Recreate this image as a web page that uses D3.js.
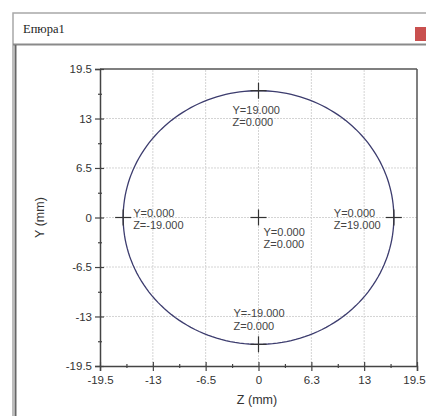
<!DOCTYPE html>
<html>
<head>
<meta charset="utf-8">
<script src="https://cdn.jsdelivr.net/npm/d3@7"></script>
<style>
  body { margin: 0; background: #fff; }
  svg { display: block; font-family: Arial, "Liberation Sans", sans-serif; }
</style>
</head>
<body>
<svg id="chart" width="426" height="416"></svg>
<script>
// data
// the axes are labelled +-19.5 but the circle of radius 19 sits well inside,
// so the real extent of the axes is ~22.25 and the labels are kept as printed
var axisMax = 22.25;
var majorTicks = [-22.25, -14.83, -7.42, 0, 7.42, 14.83, 22.25];
var minorTicks = [-18.54, -11.13, -3.71, 3.71, 11.13, 18.54];
var xTickLabels = ["-19.5", "-13", "-6.5", "0", "6.3", "13", "19.5"];
var yTickLabels = ["-19.5", "-13", "-6.5", "0", "6.5", "13", "19.5"];
var radius = 19;
var pointsZ = [0, -19, 0, 19, 0];
var pointsY = [19, 0, 0, 0, -19];
// label offsets in px from each point (first line baseline)
var labelDx = [-26, 10, 5, -60, -25];
var labelDy = [23, -1, 18, -1, -27];

var svg = d3.select("#chart");

// window frame
svg.append("rect").attr("x", 13).attr("y", 13).attr("width", 420).attr("height", 410)
  .attr("fill", "#fff").attr("stroke", "#a8a8a8").attr("stroke-width", 1.5);
svg.append("line").attr("x1", 13).attr("x2", 426).attr("y1", 44.5).attr("y2", 44.5)
  .attr("stroke", "#8a8a8a").attr("stroke-width", 2);
svg.append("line").attr("x1", 15.5).attr("x2", 15.5).attr("y1", 45).attr("y2", 416)
  .attr("stroke", "#666").attr("stroke-width", 2);
svg.append("text").attr("x", 23).attr("y", 33).text("Епюра1")
  .attr("font-family", "'Liberation Serif', serif").attr("font-size", 12.5).attr("fill", "#222");
svg.append("rect").attr("x", 415).attr("y", 27).attr("width", 14).attr("height", 14)
  .attr("fill", "#c9504f");

var x = d3.scaleLinear().domain([-axisMax, axisMax]).range([100, 417]);
var y = d3.scaleLinear().domain([-axisMax, axisMax]).range([366, 69]);

// grid
var grid = svg.append("g").attr("stroke", "#d4d4d4").attr("stroke-width", 1)
  .attr("stroke-dasharray", "2,1");
grid.selectAll(".gx").data(majorTicks.slice(1, -1)).enter().append("line")
  .attr("x1", function(d){ return x(d); }).attr("x2", function(d){ return x(d); })
  .attr("y1", y(-axisMax)).attr("y2", y(axisMax));
grid.selectAll(".gy").data(majorTicks.slice(1, -1)).enter().append("line")
  .attr("y1", function(d){ return y(d); }).attr("y2", function(d){ return y(d); })
  .attr("x1", x(-axisMax)).attr("x2", x(axisMax));

// frame lines top & right
svg.append("line").attr("x1", x(-axisMax)).attr("x2", x(axisMax)).attr("y1", y(axisMax)).attr("y2", y(axisMax))
  .attr("stroke", "#555").attr("stroke-width", 1.5);
svg.append("line").attr("x1", x(axisMax)).attr("x2", x(axisMax)).attr("y1", y(axisMax)).attr("y2", y(-axisMax))
  .attr("stroke", "#555").attr("stroke-width", 1.5);

// axes
var xAxis = d3.axisBottom(x).tickValues(majorTicks).tickSize(5)
  .tickFormat(function(d, i){ return xTickLabels[i]; });
var gx = svg.append("g").attr("transform", "translate(0," + y(-axisMax) + ")").call(xAxis);
gx.selectAll("line").attr("y1", -4);
gx.selectAll(".tick text").attr("y", 10);
// last label sits against the window edge
gx.selectAll(".tick text").filter(function(d){ return d === axisMax; }).attr("dx", "-3");
var xMinor = d3.axisBottom(x).tickValues(minorTicks).tickSize(2).tickFormat("");
var gxm = svg.append("g").attr("transform", "translate(0," + y(-axisMax) + ")").call(xMinor);
gxm.selectAll("line").attr("y1", -2);
gxm.select(".domain").remove();

var yAxis = d3.axisLeft(y).tickValues(majorTicks).tickSize(5)
  .tickFormat(function(d, i){ return yTickLabels[i]; });
var gy = svg.append("g").attr("transform", "translate(" + x(-axisMax) + ",0)").call(yAxis);
gy.selectAll("line").attr("x1", 4);
gy.selectAll(".tick text").attr("x", -8);
var yMinor = d3.axisLeft(y).tickValues(minorTicks).tickSize(2).tickFormat("");
var gym = svg.append("g").attr("transform", "translate(" + x(-axisMax) + ",0)").call(yMinor);
gym.selectAll("line").attr("x1", 2);
gym.select(".domain").remove();

svg.selectAll(".domain").attr("stroke", "#444").attr("stroke-width", 1.5);
svg.selectAll(".tick line").attr("stroke", "#444").attr("stroke-width", 1.2);
svg.selectAll(".tick text").attr("font-size", 11.5).attr("fill", "#333")
  .attr("font-family", "Arial, 'Liberation Sans', sans-serif");

// axis titles
svg.append("text").attr("x", 257).attr("y", 404).attr("text-anchor", "middle")
  .attr("font-size", 12.5).attr("fill", "#333").text("Z (mm)");
svg.append("text").attr("transform", "translate(44," + y(0) + ")rotate(-90)")
  .attr("text-anchor", "middle").attr("font-size", 12.5).attr("fill", "#333").text("Y (mm)");

// circle
var circ = d3.range(0, 361, 2).map(function(a){
  var t = a * Math.PI / 180;
  return [radius * Math.cos(t), radius * Math.sin(t)];
});
svg.append("path").datum(circ)
  .attr("d", d3.line().x(function(d){ return x(d[0]); }).y(function(d){ return y(d[1]); }))
  .attr("fill", "none").attr("stroke", "#3c3c6e").attr("stroke-width", 1.3);

// point markers and labels
var pts = pointsZ.map(function(z, i){ return {z: z, y: pointsY[i], i: i}; });
var mk = svg.append("g").attr("stroke", "#333").attr("stroke-width", 1.2);
pts.forEach(function(p){
  var px = x(p.z), py = y(p.y);
  mk.append("line").attr("x1", px - 8).attr("x2", px + 8).attr("y1", py).attr("y2", py);
  mk.append("line").attr("x1", px).attr("x2", px).attr("y1", py - 8).attr("y2", py + 8);
  var t = svg.append("text").attr("font-size", 11).attr("fill", "#444")
    .attr("x", px + labelDx[p.i]).attr("y", py + labelDy[p.i]);
  t.append("tspan").text("Y=" + p.y.toFixed(3));
  t.append("tspan").attr("x", px + labelDx[p.i]).attr("dy", 12.5).text("Z=" + p.z.toFixed(3));
});
</script>
</body>
</html>
